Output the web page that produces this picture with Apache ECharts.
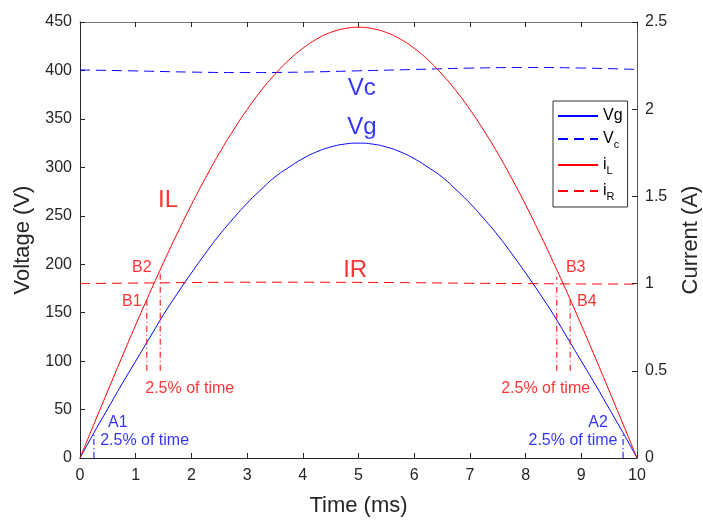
<!DOCTYPE html>
<html>
<head>
<meta charset="utf-8">
<script src="https://cdn.jsdelivr.net/npm/echarts@6/dist/echarts.min.js"></script>
<style>
  html, body { margin: 0; padding: 0; background: #fff; }
  #chart { width: 703px; height: 521px; }
</style>
</head>
<body>
<div id="chart"></div>
<script>
// time axis, 0.25 ms steps
const timeMs = [0, 0.25, 0.5, 0.75, 1, 1.25, 1.5, 1.75, 2, 2.25, 2.5, 2.75, 3, 3.25, 3.5, 3.75, 4, 4.25, 4.5, 4.75,
  5, 5.25, 5.5, 5.75, 6, 6.25, 6.5, 6.75, 7, 7.25, 7.5, 7.75, 8, 8.25, 8.5, 8.75, 9, 9.25, 9.5, 9.75, 10]
const vg = [0, 26, 51, 76, 100, 124, 148, 170, 191, 211, 230, 247, 263, 277, 290, 300, 309, 316, 321, 324,
  325, 324, 321, 316, 309, 300, 290, 277, 263, 247, 230, 211, 191, 170, 148, 124, 100, 76, 51, 26, 0]
const iL = [0, 0.194, 0.386, 0.576, 0.763, 0.945, 1.121, 1.29, 1.452, 1.604, 1.747, 1.878, 1.998, 2.106, 2.2, 2.282, 2.349, 2.402, 2.44, 2.462,
  2.47, 2.462, 2.44, 2.402, 2.349, 2.282, 2.2, 2.106, 1.998, 1.878, 1.747, 1.604, 1.452, 1.29, 1.121, 0.945, 0.763, 0.576, 0.386, 0.194, 0]
// 1 ms steps
const timeCoarse = [0, 1, 2, 3, 4, 5, 6, 7, 8, 9, 10]
const vc = [400.5, 399.5, 398.3, 397.8, 398.3, 399.6, 401, 402.4, 403, 402.5, 401]
const iR = [1.0, 1.003, 1.006, 1.008, 1.008, 1.007, 1.005, 1.002, 1.0, 0.998, 0.997]

// dash-dot markers (time, bottom V, top V)
const markerT = [1.2, 1.44, 8.56, 8.8]
const markerTop = [163, 193, 187, 166]
const markerBottom = 90
const edgeT = [0.25, 9.75]
const edgeTop = [25, 25]

// text notes
const redNotes = [['B1', 0.93, 161], ['B2', 1.11, 197], ['2.5% of time', 1.97, 72],
  ['B3', 8.9, 197], ['B4', 9.1, 161], ['2.5% of time', 8.36, 72]]
const blueNotes = [['A1', 0.68, 37], ['2.5% of time', 1.16, 17.5], ['A2', 9.3, 37], ['2.5% of time', 8.85, 17.5]]
const bigNotes = [['Vc', 5.06, 382, '#0000ff'], ['Vg', 5.06, 341, '#0000ff'],
  ['IL', 1.58, 266, '#ff0000'], ['IR', 4.94, 194, '#ff0000']]

const font = 'Liberation Sans, Arial, sans-serif'
const tickColor = '#262626'
const dashDot = [6, 3, 1, 3]

const zip = (xs, ys) => xs.map((x, i) => [x, ys[i]])

const series = [
  { name: 'Vg', type: 'line', data: zip(timeMs, vg), smooth: true, symbol: 'none',
    lineStyle: { color: '#0000ff', width: 1 }, itemStyle: { color: '#0000ff' } },
  { name: 'Vc', type: 'line', data: zip(timeCoarse, vc), smooth: true, symbol: 'none',
    lineStyle: { color: '#0000ff', width: 1, type: [10, 6] }, itemStyle: { color: '#0000ff' } },
  { name: 'iL', type: 'line', yAxisIndex: 1, data: zip(timeMs, iL), smooth: true, symbol: 'none',
    lineStyle: { color: '#ff0000', width: 1 }, itemStyle: { color: '#ff0000' } },
  { name: 'iR', type: 'line', yAxisIndex: 1, data: zip(timeCoarse, iR), smooth: true, symbol: 'none',
    lineStyle: { color: '#ff0000', width: 1, type: [10, 6] }, itemStyle: { color: '#ff0000' } }
]

markerT.forEach((t, i) => {
  series.push({ type: 'line', symbol: 'none', silent: true,
    data: [[t, markerBottom], [t, markerTop[i]]],
    lineStyle: { color: '#ff0000', width: 1, type: dashDot } })
})
edgeT.forEach((t, i) => {
  series.push({ type: 'line', symbol: 'none', silent: true,
    data: [[t, 0], [t, edgeTop[i]]],
    lineStyle: { color: '#0000ff', width: 1, type: dashDot } })
})

function noteSeries (notes, color, size) {
  return {
    type: 'scatter', symbolSize: 0, silent: true,
    data: notes.map(n => ({ name: n[0], value: [n[1], n[2]] })),
    label: { show: true, position: 'inside', formatter: p => p.name,
      color: color, fontSize: size, fontFamily: font }
  }
}
series.push(noteSeries(redNotes, '#ff0000', 16))
series.push(noteSeries(blueNotes, '#0000ff', 16))
bigNotes.forEach(n => {
  series.push(noteSeries([n], n[3], 24))
})

const legendNames = { Vg: '{m|Vg}', Vc: '{m|V}{s|c}', iL: '{m|i}{s|L}', iR: '{m|i}{s|R}' }

const myChart = echarts.init(document.getElementById('chart'))
const option = {
  animation: false,
  textStyle: { fontFamily: font },
  grid: { left: 80, right: 66, top: 22, bottom: 63, show: false, outerBoundsMode: 'none' },
  legend: {
    data: ['Vg', 'Vc', 'iL', 'iR'],
    orient: 'vertical',
    left: 553,
    top: 101,
    padding: [7, 5, 5, 4],
    itemWidth: 40,
    itemHeight: 12,
    itemGap: 7,
    borderColor: '#333',
    borderWidth: 1,
    backgroundColor: '#fff',
    itemStyle: { opacity: 0 },
    formatter: name => legendNames[name],
    textStyle: {
      rich: {
        m: { fontSize: 16, color: '#000', fontFamily: font },
        s: { fontSize: 11, color: '#000', fontFamily: font, padding: [11, 0, 0, 0] }
      }
    }
  },
  xAxis: [
    {
      type: 'value', min: 0, max: 10, interval: 1,
      name: 'Time (ms)', nameLocation: 'middle', nameGap: 37,
      nameTextStyle: { fontSize: 22, color: tickColor },
      axisLine: { onZero: false, lineStyle: { color: tickColor } },
      axisTick: { inside: true, length: 5, lineStyle: { color: tickColor } },
      axisLabel: { fontSize: 16, color: tickColor, margin: 10 },
      splitLine: { show: false }
    },
    {
      type: 'value', min: 0, max: 10, interval: 1, position: 'top',
      axisLine: { show: true, onZero: false, lineStyle: { color: '#777' } },
      axisTick: { inside: true, length: 5, lineStyle: { color: tickColor } },
      axisLabel: { show: false },
      splitLine: { show: false }
    }
  ],
  yAxis: [
    {
      type: 'value', min: 0, max: 450, interval: 50,
      name: 'Voltage (V)', nameLocation: 'middle', nameGap: 44,
      nameTextStyle: { fontSize: 22, color: tickColor },
      axisLine: { show: true, onZero: false, lineStyle: { color: tickColor } },
      axisTick: { show: true, inside: true, length: 5, lineStyle: { color: tickColor } },
      axisLabel: { fontSize: 16, color: tickColor, margin: 8 },
      splitLine: { show: false }
    },
    {
      type: 'value', min: 0, max: 2.5, interval: 0.5, position: 'right',
      name: 'Current (A)', nameLocation: 'middle', nameGap: 43, nameRotate: 90,
      nameTextStyle: { fontSize: 22, color: tickColor },
      axisLine: { show: true, onZero: false, lineStyle: { color: '#555' } },
      axisTick: { show: true, inside: true, length: 5, lineStyle: { color: tickColor } },
      axisLabel: { fontSize: 16, color: tickColor, margin: 8 },
      splitLine: { show: false }
    }
  ],
  series: series
}
myChart.setOption(option)
</script>
</body>
</html>
